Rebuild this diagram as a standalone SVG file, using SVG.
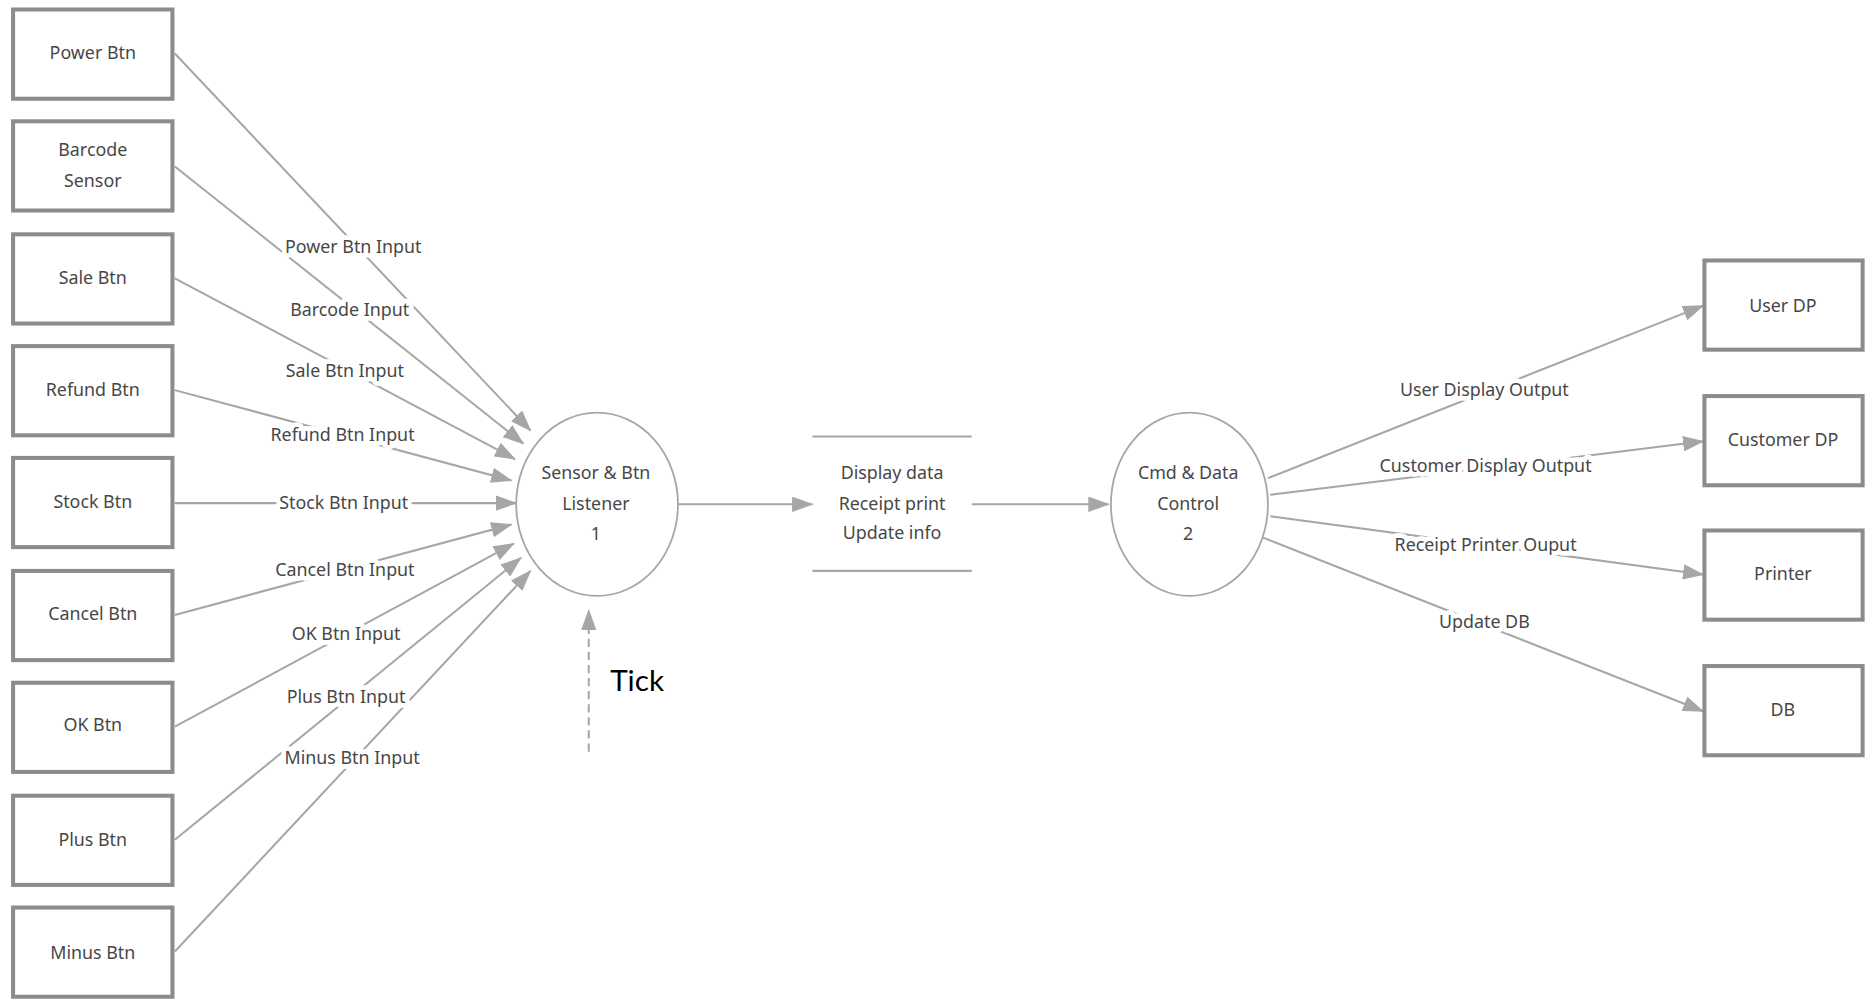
<svg xmlns="http://www.w3.org/2000/svg" width="1865" height="999" viewBox="0 0 1865 999">
<defs>
<style>
.box{fill:#fff;stroke:#8c8c8c;stroke-width:3.4}
.proc{fill:#fff;stroke:#a6a6a6;stroke-width:1.5}
.t{font-family:"Noto Sans","Open Sans",sans-serif;font-size:15px;fill:#474747;text-anchor:middle}
.lbl{font-family:"Noto Sans","Open Sans",sans-serif;font-size:15px;fill:#474747;text-anchor:middle;stroke:#fff;stroke-width:8;paint-order:stroke;stroke-linejoin:round}
.c{fill:none;stroke:#a6a6a6;stroke-width:1.7;marker-end:url(#ah)}
.store{stroke:#a6a6a6;stroke-width:1.8}
</style>
<marker id="ah" viewBox="0 0 18 13" refX="17" refY="6.5" markerWidth="18" markerHeight="13" markerUnits="userSpaceOnUse" orient="auto">
<path d="M0,0 L18,6.5 L0,13 Z" fill="#a6a6a6"/>
</marker>
</defs>
<rect width="1865" height="999" fill="#fff"/>
<g transform="scale(1.18941)">
<g id="connectors">
<line class="c" x1="147" y1="45" x2="446" y2="362"/>
<line class="c" x1="147" y1="140" x2="440" y2="373"/>
<line class="c" x1="147" y1="234" x2="433" y2="386"/>
<line class="c" x1="147" y1="328" x2="430" y2="404"/>
<line class="c" x1="147" y1="423" x2="434" y2="423"/>
<line class="c" x1="147" y1="517" x2="430" y2="441"/>
<line class="c" x1="147" y1="611" x2="432" y2="457"/>
<line class="c" x1="147" y1="706" x2="438" y2="469"/>
<line class="c" x1="147" y1="800" x2="446" y2="480"/>
<line class="c" x1="570" y1="424" x2="683" y2="424"/>
<line class="c" x1="817" y1="424" x2="932" y2="424"/>
<line class="c" x1="1066" y1="402" x2="1432" y2="257"/>
<line class="c" x1="1068" y1="416" x2="1432" y2="371"/>
<line class="c" x1="1068" y1="434" x2="1432" y2="483"/>
<line class="c" x1="1062" y1="452" x2="1432" y2="598"/>
<line class="c" x1="495" y1="632" x2="495" y2="513" stroke-dasharray="7,4"/>
<text class="lbl" x="297" y="213">Power Btn Input</text>
<text class="lbl" x="294" y="266">Barcode Input</text>
<text class="lbl" x="290" y="317">Sale Btn Input</text>
<text class="lbl" x="288" y="371">Refund Btn Input</text>
<text class="lbl" x="289" y="428">Stock Btn Input</text>
<text class="lbl" x="290" y="484">Cancel Btn Input</text>
<text class="lbl" x="291" y="538">OK Btn Input</text>
<text class="lbl" x="291" y="591">Plus Btn Input</text>
<text class="lbl" x="296" y="642">Minus Btn Input</text>
<text class="lbl" x="1248" y="333">User Display Output</text>
<text class="lbl" x="1249" y="397">Customer Display Output</text>
<text class="lbl" x="1249" y="463">Receipt Printer Ouput</text>
<text class="lbl" x="1248" y="528">Update DB</text>
<text x="513" y="581" font-family="Lato,'Open Sans',sans-serif" font-size="25" fill="#000">Tick</text>
</g>
<g id="power"><rect class="box" x="11" y="8" width="134" height="75"/><text class="t" x="78" y="50">Power Btn</text></g>
<g id="barcode"><rect class="box" x="11" y="102" width="134" height="75"/><text class="t" x="78" y="131">Barcode</text><text class="t" x="78" y="157">Sensor</text></g>
<g id="sale"><rect class="box" x="11" y="197" width="134" height="75"/><text class="t" x="78" y="239">Sale Btn</text></g>
<g id="refund"><rect class="box" x="11" y="291" width="134" height="75"/><text class="t" x="78" y="333">Refund Btn</text></g>
<g id="stock"><rect class="box" x="11" y="385" width="134" height="75"/><text class="t" x="78" y="427">Stock Btn</text></g>
<g id="cancel"><rect class="box" x="11" y="480" width="134" height="75"/><text class="t" x="78" y="521">Cancel Btn</text></g>
<g id="ok"><rect class="box" x="11" y="574" width="134" height="75"/><text class="t" x="78" y="615">OK Btn</text></g>
<g id="plus"><rect class="box" x="11" y="669" width="134" height="75"/><text class="t" x="78" y="711">Plus Btn</text></g>
<g id="minus"><rect class="box" x="11" y="763" width="134" height="75"/><text class="t" x="78" y="806">Minus Btn</text></g>
<g id="listener"><ellipse class="proc" cx="502" cy="424" rx="68" ry="77"/><text class="t" x="501" y="403">Sensor &amp; Btn</text><text class="t" x="501" y="429">Listener</text><text class="t" x="501" y="454">1</text></g>
<g id="store"><line class="store" x1="683" y1="367" x2="817" y2="367"/><line class="store" x1="683" y1="480" x2="817" y2="480"/><text class="t" x="750" y="403">Display data</text><text class="t" x="750" y="429">Receipt print</text><text class="t" x="750" y="453">Update info</text></g>
<g id="control"><ellipse class="proc" cx="1000" cy="424" rx="66" ry="77"/><text class="t" x="999" y="403">Cmd &amp; Data</text><text class="t" x="999" y="429">Control</text><text class="t" x="999" y="454">2</text></g>
<g id="userdp"><rect class="box" x="1433" y="219" width="133" height="75"/><text class="t" x="1499" y="262">User DP</text></g>
<g id="custdp"><rect class="box" x="1433" y="333" width="133" height="75"/><text class="t" x="1499" y="375">Customer DP</text></g>
<g id="printer"><rect class="box" x="1433" y="446" width="133" height="75"/><text class="t" x="1499" y="488">Printer</text></g>
<g id="db"><rect class="box" x="1433" y="560" width="133" height="75"/><text class="t" x="1499" y="602">DB</text></g>
</g>
</svg>
